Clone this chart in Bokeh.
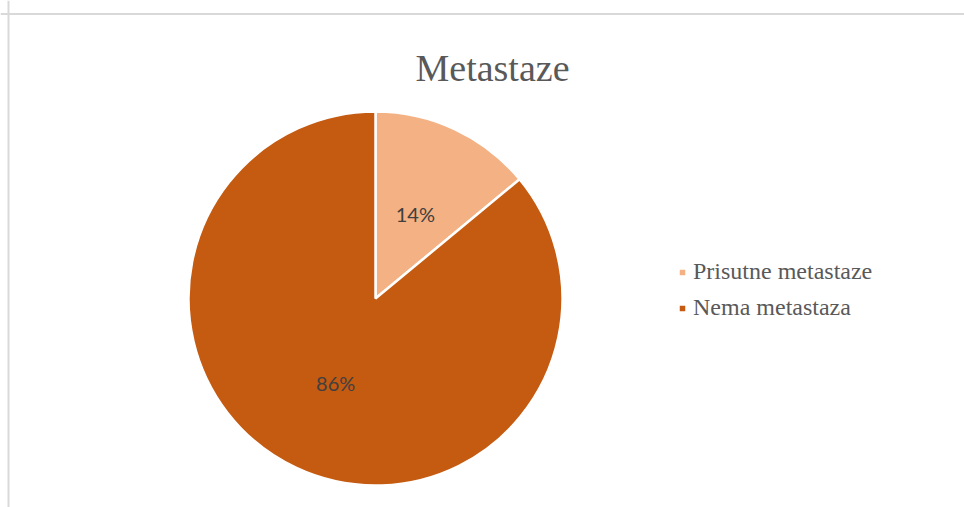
import numpy as np
from bokeh.plotting import figure
from bokeh.models import ColumnDataSource, Range1d, Label, Legend, LegendItem, Span, LabelSet
from bokeh.core.properties import value
from bokeh.embed import file_html
from bokeh.resources import INLINE

title_text = "Metastaze"
categories = ["Prisutne metastaze", "Nema metastaza"]
values = [14, 86]
colors = ["#F4B183", "#C55A11"]

W, H = 964, 507
p = figure(width=W, height=H, output_backend="svg", toolbar_location=None,
           x_range=Range1d(0, W), y_range=Range1d(0, H),
           min_border=0, outline_line_color=None)
p.axis.visible = False
p.grid.visible = False
p.background_fill_color = "white"
p.border_fill_color = "white"

# chart area border (top and left visible)
p.add_layout(Span(location=H - 13.5, dimension="width", line_color="#d9d9d9", line_width=2))
p.add_layout(Span(location=8, dimension="height", line_color="#d9d9d9", line_width=2))

cx, cy, r = 375, 209, 187
vals = np.array(values, dtype=float)
frac = vals / vals.sum()
cum = np.concatenate([[0], np.cumsum(frac)])
start = np.pi / 2 - cum[:-1] * 2 * np.pi
end = np.pi / 2 - cum[1:] * 2 * np.pi
mid = (start + end) / 2
src = ColumnDataSource(dict(
    cat=categories, color=colors, start=start, end=end,
    lx=cx + 0.5 * r * np.cos(mid), ly=cy + 0.5 * r * np.sin(mid),
    pct=[f"{round(f*100)}%" for f in frac],
))

wedge = p.wedge(x=cx, y=cy, radius=r, start_angle="start", end_angle="end",
                direction="clock", fill_color="color", line_color="white",
                line_width=2.5, source=src)

p.add_layout(LabelSet(x="lx", y="ly", text="pct", source=src,
                      text_align="center", text_baseline="middle",
                      text_font=value("Lato"), text_font_size=value("20px"),
                      text_color="#404040"))

p.add_layout(Label(x=492, y=H - 67, text=title_text, text_align="center",
                   text_baseline="alphabetic", text_font="Liberation Serif",
                   text_font_size="38px", text_color="#595959"))

items = [LegendItem(label=c, renderers=[wedge], index=i) for i, c in enumerate(categories)]
legend = Legend(items=items, location=(677, 186), padding=0, margin=0,
                border_line_color=None, background_fill_alpha=0,
                glyph_width=10, glyph_height=10, label_standoff=6,
                label_height=24, spacing=9,
                label_text_font="Liberation Serif", label_text_font_size="24px",
                label_text_color="#595959")
p.add_layout(legend, "center")

open("out.html", "w").write(file_html(p, INLINE))
